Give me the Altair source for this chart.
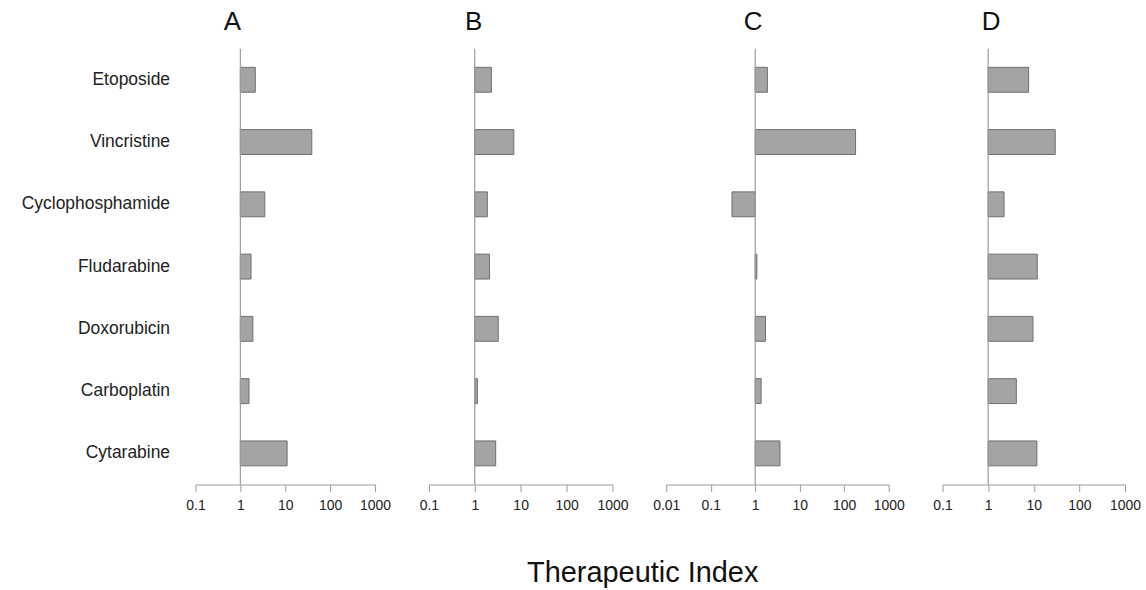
import altair as alt
import pandas as pd

drugs = ["Etoposide", "Vincristine", "Cyclophosphamide", "Fludarabine",
         "Doxorubicin", "Carboplatin", "Cytarabine"]
panel_a = [2.15, 39, 3.5, 1.73, 1.9, 1.56, 11]
panel_b = [2.3, 7.1, 1.88, 2.1, 3.25, 1.14, 2.86]
panel_c = [1.88, 180, 0.30, 1.09, 1.7, 1.36, 3.6]
panel_d = [7.7, 29.5, 2.23, 11.9, 9.6, 4.15, 11.7]
panel_labels = ["A", "B", "C", "D"]
x_mins = [0.1, 0.1, 0.01, 0.1]
ticks_4 = [0.1, 1, 10, 100, 1000]
ticks_5 = [0.01, 0.1, 1, 10, 100, 1000]

FONT = "Liberation Sans"
HEIGHT = 437
BAR_FILL = "#a4a4a4"
BAR_STROKE = "#6f6f6f"
LINE = "#9c9c9c"


def panel(values, label, xmin, ticks, width, show_y, title_dx):
    df = pd.DataFrame({"drug": drugs, "base": [1] * len(drugs), "ti": values})
    xscale = alt.Scale(type="log", domain=[xmin, 1000], nice=False)
    xaxis = alt.Axis(values=ticks, format="~g", grid=False, domainColor=LINE,
                     tickColor=LINE, tickSize=7, labelFontSize=14, labelFont=FONT,
                     labelColor="#222", labelPadding=7, labelFlush=False)
    if show_y:
        yaxis = alt.Axis(domain=False, ticks=False, labelFontSize=17.5, labelFont=FONT,
                         labelColor="#222", labelPadding=26, labelLimit=300)
    else:
        yaxis = None
    y = alt.Y("drug:N", sort=drugs, title=None, axis=yaxis,
              scale=alt.Scale(paddingInner=0.6, paddingOuter=0.3))
    bars = alt.Chart(df).mark_bar(fill=BAR_FILL, stroke=BAR_STROKE, strokeWidth=1).encode(
        x=alt.X("base:Q", scale=xscale, axis=xaxis, title=None),
        x2="ti:Q",
        y=y,
    )
    one = pd.DataFrame({"one": [1], "label": [label]})
    rule = alt.Chart(one).mark_rule(color=LINE, strokeWidth=1.2).encode(
        x=alt.X("one:Q", title=None),
        y=alt.value(0),
        y2=alt.value(HEIGHT),
    )
    title = alt.Chart(one).mark_text(fontSize=26, font=FONT, color="#111",
                                     baseline="middle", dx=title_dx).encode(
        x=alt.X("one:Q", title=None),
        y=alt.value(-27),
        text="label:N",
    )
    return alt.layer(bars, rule, title).properties(width=width, height=HEIGHT)


pa = panel(panel_a, panel_labels[0], x_mins[0], ticks_4, 180, True, -8)
pb = panel(panel_b, panel_labels[1], x_mins[1], ticks_4, 184, False, -1)
pc = panel(panel_c, panel_labels[2], x_mins[2], ticks_5, 223, False, -2)
pd_ = panel(panel_d, panel_labels[3], x_mins[3], ticks_4, 183, False, 3)

chart = alt.hconcat(pa, pb, pc, pd_, spacing=54, bounds="flush").properties(
    title=alt.Title("Therapeutic Index", orient="bottom", anchor="middle", fontSize=29,
                    fontWeight="normal", font=FONT, color="#111", offset=47, dx=62),
    padding={"left": 21, "top": 8, "right": 5, "bottom": 5},
).configure_view(stroke=None).resolve_scale(x="independent")

chart.save("out.html", embed_options={"renderer": "svg", "actions": False})
